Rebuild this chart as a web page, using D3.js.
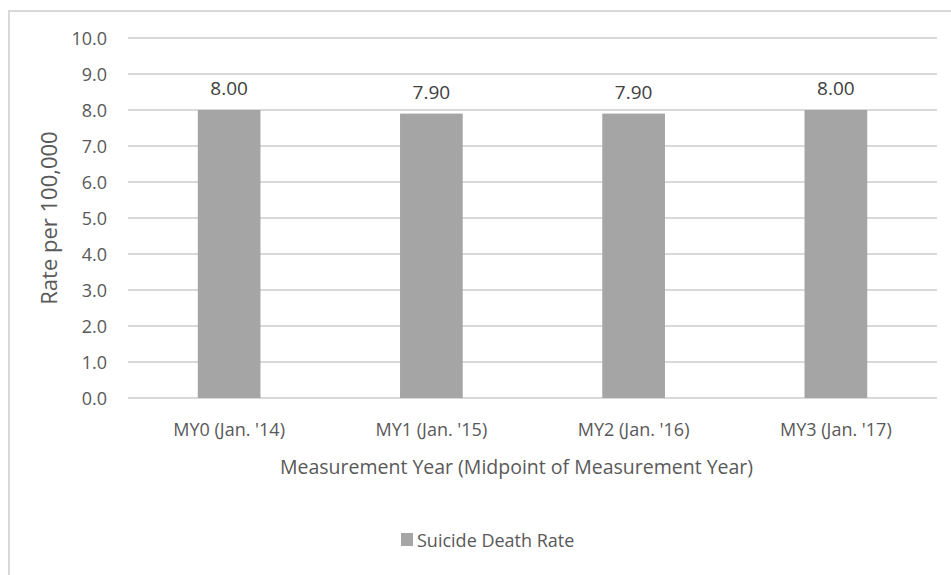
<!DOCTYPE html>
<html>
<head>
<meta charset="utf-8">
<script src="https://cdn.jsdelivr.net/npm/d3@7"></script>
<style>
  body { margin: 0; background: #fff; }
  svg { display: block; font-family: "Open Sans", sans-serif; }
  svg text { font-family: "Open Sans", sans-serif; }
  .tick text { fill: #595959; }
</style>
</head>
<body>
<div id="chart"></div>
<script>
var categories = ["MY0 (Jan. '14)", "MY1 (Jan. '15)", "MY2 (Jan. '16)", "MY3 (Jan. '17)"];
var rates = [8.00, 7.90, 7.90, 8.00];
var yTicks = [0, 1, 2, 3, 4, 5, 6, 7, 8, 9, 10];
var seriesName = 'Suicide Death Rate';

var width = 951, height = 575;
var margin = { top: 38, right: 14, bottom: 177, left: 128 };
var plotW = width - margin.left - margin.right,
    plotH = height - margin.top - margin.bottom;

var svg = d3.select('#chart')
    .append('svg')
    .attr('width', width)
    .attr('height', height);

// chart area border (only left and top edges show in the crop)
svg.append('path')
    .attr('d', 'M9,' + height + 'V11H' + width)
    .attr('fill', 'none')
    .attr('stroke', '#d9d9d9')
    .attr('stroke-width', 2);

var g = svg.append('g')
    .attr('transform', 'translate(' + margin.left + ',' + margin.top + ')');

var x = d3.scaleBand()
    .domain(categories)
    .range([0, plotW])
    .paddingInner(0.69)
    .paddingOuter(0.345);

var y = d3.scaleLinear()
    .domain([0, 10])
    .range([plotH, 0]);

// gridlines
g.append('g')
    .selectAll('line')
    .data(yTicks)
    .enter()
    .append('line')
    .attr('x1', 0)
    .attr('x2', plotW)
    .attr('y1', function(d) { return y(d); })
    .attr('y2', function(d) { return y(d); })
    .attr('stroke', '#d9d9d9')
    .attr('stroke-width', 2);

var yAxis = g.append('g')
    .call(d3.axisLeft(y).tickValues(yTicks).tickFormat(d3.format('.1f')).tickSize(0).tickPadding(21));
yAxis.select('.domain').remove();
yAxis.attr('font-family', null);
yAxis.selectAll('text').attr('font-size', 18).attr('dy', '0.35em');

g.append('g')
    .selectAll('rect')
    .data(rates)
    .enter()
    .append('rect')
    .attr('x', function(d, i) { return x(categories[i]); })
    .attr('y', function(d) { return y(d); })
    .attr('width', x.bandwidth())
    .attr('height', function(d) { return plotH - y(d); })
    .attr('fill', '#a5a5a5');

g.append('g')
    .selectAll('text')
    .data(rates)
    .enter()
    .append('text')
    .attr('x', function(d, i) { return x(categories[i]) + x.bandwidth() / 2; })
    .attr('y', function(d) { return y(d) - 15; })
    .attr('text-anchor', 'middle')
    .attr('font-size', 19)
    .attr('fill', '#404040')
    .text(function(d) { return d.toFixed(2); });

var xAxis = g.append('g')
    .attr('transform', 'translate(0,' + plotH + ')')
    .call(d3.axisBottom(x).tickSize(0).tickPadding(25));
xAxis.select('.domain').remove();
xAxis.attr('font-family', null);
xAxis.selectAll('text').attr('font-size', 18);

// axis titles
svg.append('text')
    .attr('x', margin.left + plotW / 2 - 16)
    .attr('y', 474)
    .attr('text-anchor', 'middle')
    .attr('font-size', 19.5)
    .attr('fill', '#595959')
    .text('Measurement Year (Midpoint of Measurement Year)');

svg.append('text')
    .attr('transform', 'translate(57,' + (margin.top + plotH / 2) + ') rotate(-90)')
    .attr('text-anchor', 'middle')
    .attr('font-size', 22)
    .attr('fill', '#595959')
    .text('Rate per 100,000');

// legend
var legend = svg.append('g')
    .attr('transform', 'translate(401,533)');
legend.append('rect')
    .attr('width', 12)
    .attr('height', 13)
    .attr('fill', '#a5a5a5');
legend.append('text')
    .attr('x', 16)
    .attr('y', 14)
    .attr('font-size', 18)
    .attr('fill', '#595959')
    .text(seriesName);
</script>
</body>
</html>
